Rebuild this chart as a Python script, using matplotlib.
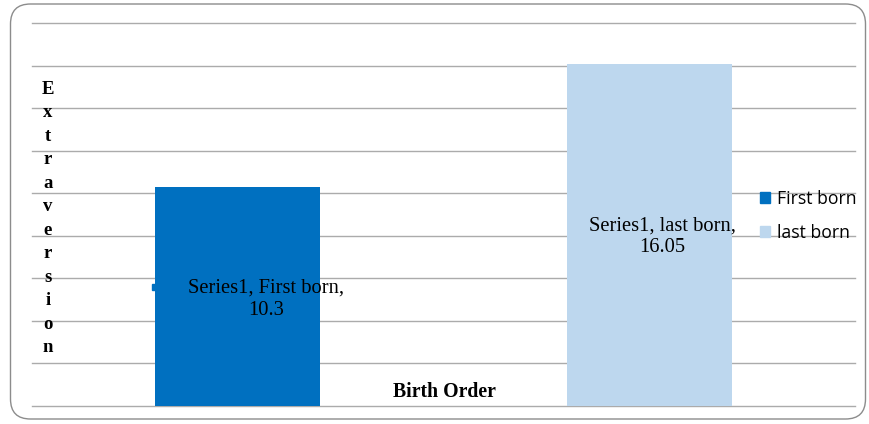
import matplotlib
matplotlib.use("Agg")
import matplotlib.pyplot as plt
from matplotlib.patches import FancyBboxPatch, Rectangle
from matplotlib.transforms import IdentityTransform

categories = ["First born", "last born"]
values = [10.3, 16.05]
series_name = "Series1"
colors = ["#0070C0", "#BDD7EE"]
y_label = "Extraversion"
x_label = "Birth Order"

fig = plt.figure(figsize=(8.69, 4.24), dpi=100)
ax = fig.add_axes([32/869, 18/424, (855-32)/869, (406-23)/424])

x = list(range(len(categories)))
bars = ax.bar(x, values, width=0.4, color=colors, zorder=2, label=categories)
ax.set_xlim(-0.5, 1.5)
ax.set_ylim(0, 18)
ax.set_yticks(range(0, 19, 2))
ax.yaxis.grid(True, color="#ABABAB", linewidth=1.0, zorder=0)
for gl in ax.get_ygridlines():
    gl.set_clip_on(False)
ax.set_axisbelow(True)
ax.tick_params(left=False, bottom=False, labelleft=False, labelbottom=False)
for s in ax.spines.values():
    s.set_visible(False)

# data labels
label_pos = [(0.069, 5.02), (1.031, 7.95)]
for (lx, ly), v, c in zip(label_pos, values, categories):
    ax.text(lx, ly, f"{series_name}, {c},\n{v:g}", ha="center", va="center",
            fontfamily="Liberation Serif", fontsize=14.8, linespacing=1.2, zorder=3)
# small legend-key tag near first label
ax.add_patch(Rectangle((-0.208, 5.45), 0.0146, 0.28, color=colors[0], zorder=3,
                       clip_on=False))

# stacked y label
fig.text(48/869, 1 - 218.5/424, "\n".join(y_label), ha="center", va="center",
         fontfamily="Liberation Serif", fontweight="bold", fontsize=13.5,
         linespacing=1.5)
fig.text(444/869, 1 - 392/424, x_label, ha="center", va="center",
         fontfamily="Liberation Serif", fontweight="bold", fontsize=14.2)

# legend
handles = [Rectangle((0, 0), 1, 1, color=col) for col in colors]
leg = fig.legend(handles, categories, loc="upper left",
                 bbox_to_anchor=(760/869, 1 - 190/424), frameon=False,
                 prop={"family": "Open Sans", "size": 12.7},
                 handlelength=0.57, handleheight=0.57, handletextpad=0.4,
                 labelspacing=0.9, borderpad=0, borderaxespad=0)

# rounded outer frame (pixel coordinates)
frame = FancyBboxPatch((10.5, 5), 855, 415,
                       boxstyle="round,pad=0,rounding_size=20",
                       transform=IdentityTransform(), fill=False,
                       edgecolor="#8C8C8C", linewidth=1.0)
fig.patches.append(frame)

fig.savefig("out.png", dpi=100)
